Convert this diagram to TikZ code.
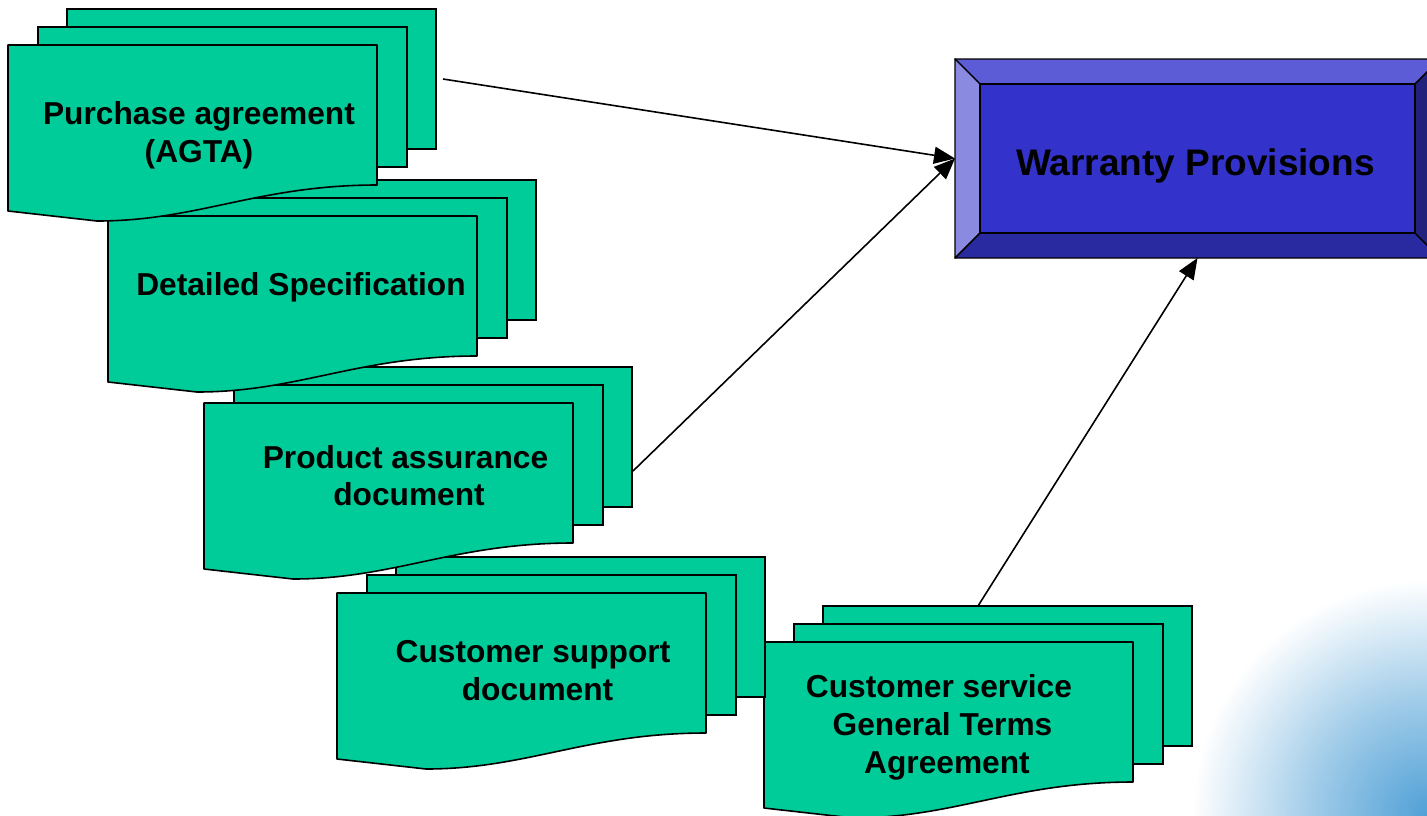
\documentclass[tikz,border=0pt]{standalone}
\usepackage{fontspec}
\setmainfont{Liberation Sans}
\usetikzlibrary{arrows.meta,calc}
\definecolor{docgreen}{RGB}{0,204,153}
\definecolor{bvtop}{RGB}{92,92,214}
\definecolor{bvleft}{RGB}{138,138,224}
\definecolor{bvbottom}{RGB}{42,42,160}
\definecolor{bvright}{RGB}{34,34,124}
\definecolor{bvface}{RGB}{51,51,204}
\definecolor{glowc}{RGB}{80,160,214}
\pgfdeclareradialshading{cornerglow}{\pgfpoint{0bp}{0bp}}{color(0bp)=(glowc); color(12bp)=(glowc!55!white); color(25bp)=(white); color(50bp)=(white)}
\tikzset{
  docpage/.style={draw=black, fill=docgreen, line width=1.6pt, minimum width=369pt, minimum height=140pt, inner sep=0pt, outer sep=0pt},
  docline/.style={draw=black, fill=docgreen, line width=1.6pt, line join=round},
  lbl/.style={font=\fontsize{31.7}{38}\selectfont\bfseries, inner sep=0pt, anchor=base},
  bevel/.style={draw=black, line width=1.4pt, line join=round},
  conn/.style={draw=black, line width=1.6pt, -{Triangle[length=21pt,width=17pt]}}
}
\newcommand\docstack[3]{%
  \begin{scope}[shift={(#1,#2)}]
    \node[docpage, anchor=north west] (#3b) at (59,-36) {};
    \node[docpage, anchor=north west] (#3m) at (30,-18) {};
    \draw[docline] (0,0) -- (369,0) -- (369,140) .. controls (250,140) and (190,176) .. (89,176) -- (0,166) -- cycle;
  \end{scope}}
\begin{document}
\begin{tikzpicture}[x=1pt,y=-1pt]
\useasboundingbox (0,0) rectangle (1427,815);
\begin{scope}
  \clip (0,0) rectangle (1427,815);
  \shade[shading=cornerglow] (1427,815) circle (235);
\end{scope}
% document stacks (lower ones first)
\docstack{764}{642}{s5}
\docstack{337}{593}{s4}
\docstack{204}{403}{s3}
\docstack{108}{216}{s2}
\docstack{8}{45}{s1}
% labels
\node[lbl] (t1a) at (199,124) {Purchase agreement};
\node[lbl] (t1b) at (199,162) {(AGTA)};
\node[lbl] (t2a) at (301,295) {Detailed Specification};
\node[lbl] (t3a) at (405.5,468) {Product assurance};
\node[lbl] (t3b) at (409,505) {document};
\node[lbl] (t4a) at (533,662) {Customer support};
\node[lbl] (t4b) at (537.5,700) {document};
\node[lbl] (t5a) at (939,697) {Customer service};
\node[lbl] (t5b) at (942.5,735) {General Terms};
\node[lbl] (t5c) at (947,773) {Agreement};
% warranty box
\node[minimum width=485pt, minimum height=199pt, inner sep=0pt, outer sep=0pt, anchor=north west] (wp) at (955,59) {};
\fill[bvtop, bevel] (wp.north west) -- (wp.north east) -- ($(wp.north east)+(-25,25)$) -- ($(wp.north west)+(25,25)$) -- cycle;
\fill[bvleft, bevel] (wp.north west) -- ($(wp.north west)+(25,25)$) -- ($(wp.south west)+(25,-25)$) -- (wp.south west) -- cycle;
\fill[bvbottom, bevel] (wp.south west) -- ($(wp.south west)+(25,-25)$) -- ($(wp.south east)+(-25,-25)$) -- (wp.south east) -- cycle;
\fill[bvright, bevel] (wp.north east) -- (wp.south east) -- ($(wp.south east)+(-25,-25)$) -- ($(wp.north east)+(-25,25)$) -- cycle;
\node[fill=bvface, draw=black, line width=1.4pt, minimum width=435pt, minimum height=149pt, inner sep=0pt, outer sep=0pt] (wpf) at (wp.center) {};
\node[lbl, font=\fontsize{37}{44}\selectfont\bfseries] (wpt) at (1195.5,175) {Warranty Provisions};
% connectors
\draw[conn] ($(s1b.east)+(7,0)$) -- (wp.west);
\draw[conn] ($(s3b.south east)+(1,-36)$) -- (wp.west);
\draw[conn] ($(s5b.north west)+(155,0)$) -- (wp.south);
\end{tikzpicture}
\end{document}
